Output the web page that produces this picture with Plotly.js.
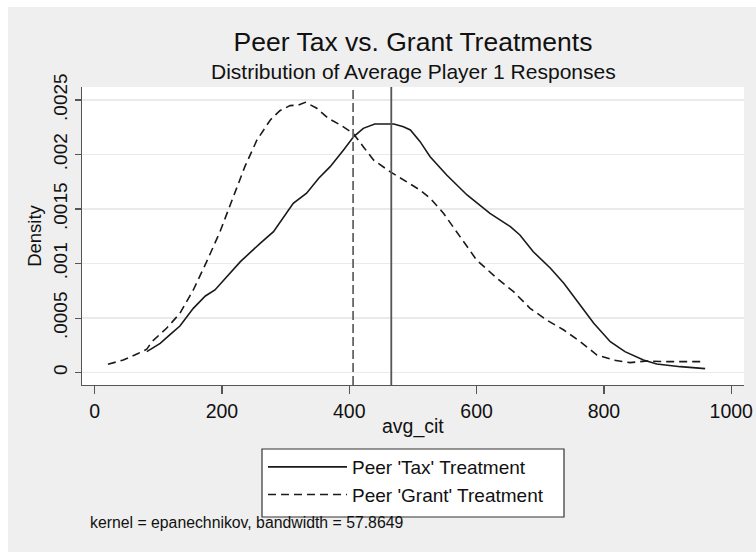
<!DOCTYPE html>
<html>
<head>
<meta charset="utf-8">
<script src="https://cdn.plot.ly/plotly-3.0.1.min.js"></script>
<style>html,body{margin:0;padding:0;background:#fff;}#chart{width:756px;height:552px;}</style>
</head>
<body>
<div id="chart"></div>
<script>
// Kernel density estimates
var taxX = [82, 103, 118, 134, 155, 174, 189, 208, 229, 260, 281, 312, 333, 352, 370, 391, 407, 422, 440, 470, 485, 496, 511, 527, 553, 585, 621, 653, 668, 689, 716, 737, 758, 784, 810, 833, 862, 883, 920, 959];
var taxY = [0.000193, 0.000269, 0.000346, 0.000428, 0.00059, 0.000703, 0.000758, 0.00088, 0.001018, 0.001186, 0.001293, 0.001553, 0.001645, 0.001782, 0.001889, 0.002042, 0.002164, 0.00224, 0.00228, 0.00228, 0.002255, 0.002225, 0.00212, 0.00198, 0.001812, 0.001629, 0.001461, 0.001339, 0.001262, 0.001109, 0.000957, 0.00082, 0.000651, 0.000453, 0.000284, 0.000193, 0.000116, 0.00008, 0.000055, 0.000037];
var grantX = [21, 45, 69, 82, 90, 113, 134, 155, 176, 197, 218, 236, 255, 276, 291, 307, 320, 331, 349, 367, 386, 406, 422, 438, 464, 485, 511, 527, 548, 574, 600, 632, 658, 684, 710, 737, 763, 789, 815, 841, 868, 894, 959];
var grantY = [0.000077, 0.000116, 0.000178, 0.000215, 0.000284, 0.000407, 0.000544, 0.000758, 0.001018, 0.001293, 0.001614, 0.001889, 0.002133, 0.002317, 0.002402, 0.002448, 0.002454, 0.002479, 0.002424, 0.002332, 0.002271, 0.002195, 0.002072, 0.00195, 0.001843, 0.001767, 0.001675, 0.001599, 0.001461, 0.001247, 0.001033, 0.000865, 0.000743, 0.00059, 0.000483, 0.000391, 0.000284, 0.000162, 0.000116, 0.000092, 0.000107, 0.000101, 0.000101];
var taxMean = 466;
var grantMean = 406;
var seriesNames = ["Peer 'Tax' Treatment", "Peer 'Grant' Treatment"];
var xTickVals = [0, 200, 400, 600, 800, 1000];
var xTickText = ["0", "200", "400", "600", "800", "1000"];
var yTickVals = [0, 0.0005, 0.001, 0.0015, 0.002, 0.0025];
var yTickText = ["0", ".0005", ".001", ".0015", ".002", ".0025"];
var titleText = "Peer Tax vs. Grant Treatments";
var subtitleText = "Distribution of Average Player 1 Responses";
var xTitleText = "avg_cit";
var yTitleText = "Density";
var noteText = "kernel = epanechnikov, bandwidth = 57.8649";

var FONT = "Liberation Sans, Arial, Helvetica, sans-serif";

// plot area in pixels: left 82, right 744, top 87, bottom 385
function px(xp) { return (xp - 82) / 662; }
function py(yp) { return (385 - yp) / 298; }

var traces = [
  {x: taxX, y: taxY, type: 'scatter', mode: 'lines', name: seriesNames[0],
   line: {color: '#1a1a1a', width: 1.6, dash: 'solid'}},
  {x: grantX, y: grantY, type: 'scatter', mode: 'lines', name: seriesNames[1],
   line: {color: '#1a1a1a', width: 1.6, dash: '8px,5px'}}
];

var layout = {
  width: 756, height: 552,
  paper_bgcolor: '#efefef',
  plot_bgcolor: '#ffffff',
  margin: {l: 82, r: 12, t: 87, b: 167},
  font: {family: FONT, color: '#111'},
  title: {text: titleText,
          font: {family: FONT, size: 26.5, color: '#111'},
          x: 0.5, xref: 'paper', xanchor: 'center', y: 1 - 42 / 552, yref: 'container', yanchor: 'middle'},
  showlegend: true,
  legend: {x: px(263), y: py(448), xref: 'paper', yref: 'paper', xanchor: 'left', yanchor: 'top',
           bgcolor: 'rgba(0,0,0,0)', borderwidth: 0,
           font: {family: FONT, size: 19, color: '#111'}, itemwidth: 79,
           tracegroupgap: 0},
  xaxis: {range: [-19.8, 1020], tickvals: xTickVals, ticktext: xTickText,
          showgrid: false, zeroline: false, showline: true, linecolor: '#555', linewidth: 1.2,
          ticks: 'outside', ticklen: 8, tickcolor: '#555', tickwidth: 1.2,
          tickfont: {family: FONT, size: 19.5, color: '#111'}},
  yaxis: {range: [-0.000113, 0.002619], tickvals: yTickVals, ticktext: yTickText,
          showgrid: true, gridcolor: '#eaeaea', gridwidth: 1.6, zeroline: false,
          showline: true, linecolor: '#555', linewidth: 1.2,
          ticks: 'outside', ticklen: 6, tickcolor: '#555', tickwidth: 1.2, tickangle: -90,
          tickfont: {family: FONT, size: 19, color: '#111'},
          title: {text: yTitleText, font: {family: FONT, size: 18.5, color: '#111'}, standoff: 3}},
  shapes: [
    {type: 'line', xref: 'x', yref: 'paper', x0: taxMean, x1: taxMean, y0: 0, y1: 1,
     line: {color: '#555', width: 1.8}},
    {type: 'line', xref: 'x', yref: 'paper', x0: grantMean, x1: grantMean, y0: 0, y1: 1,
     line: {color: '#666', width: 1.8, dash: '9px,4px'}},
    {type: 'rect', xref: 'paper', yref: 'paper', x0: px(262), x1: px(564), y0: py(517), y1: py(449),
     fillcolor: '#ffffff', line: {color: '#333', width: 1.2}, layer: 'below'},
    {type: 'rect', xref: 'paper', yref: 'paper', x0: -0.2, x1: 1.1, y0: py(7), y1: 1.4,
     fillcolor: '#ffffff', line: {width: 0}, layer: 'above'},
    {type: 'rect', xref: 'paper', yref: 'paper', x0: -0.2, x1: px(8), y0: -0.7, y1: 1.4,
     fillcolor: '#ffffff', line: {width: 0}, layer: 'above'}
  ],
  annotations: [
    {text: subtitleText, xref: 'paper', yref: 'paper', x: 0.5, y: py(72),
     xanchor: 'center', yanchor: 'middle', showarrow: false,
     font: {family: FONT, size: 21, color: '#111'}},
    {text: xTitleText, xref: 'paper', yref: 'paper', x: 0.5, y: py(426),
     xanchor: 'center', yanchor: 'middle', showarrow: false,
     font: {family: FONT, size: 19.5, color: '#111'}},
    {text: noteText, xref: 'paper', yref: 'paper', x: px(88), y: py(522), xanchor: 'left', yanchor: 'middle',
     showarrow: false, font: {family: FONT, size: 15.8, color: '#111'}}
  ]
};

Plotly.newPlot('chart', traces, layout, {displayModeBar: false, staticPlot: true});
</script>
</body>
</html>
